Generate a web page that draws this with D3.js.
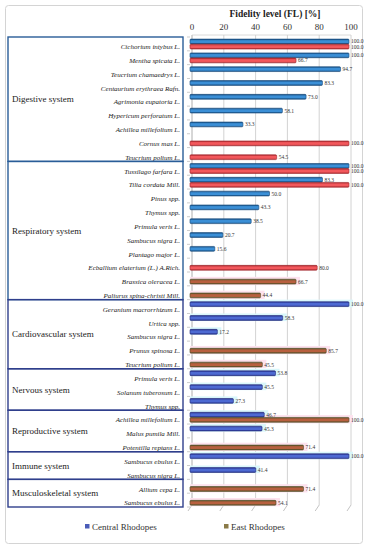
<!DOCTYPE html>
<html>
<head>
<meta charset="utf-8">
<script src="https://cdn.jsdelivr.net/npm/d3@7"></script>
<style>
  body { margin: 0; background: #fff; }
  svg { display: block; font-family: "Liberation Serif", "DejaVu Serif", serif; }
</style>
</head>
<body>
<svg id="chart" width="371" height="550"></svg>
<script>
// species, one row each (names repeat across systems)
const species = [
  "Cichorium intybus L.", "Mentha spicata L.", "Teucrium chamaedrys L.", "Centaurium erythraea Rafn.",
  "Agrimonia eupatoria L.", "Hypericum perforatum L.", "Achillea millefolium L.", "Cornus mas L.",
  "Teucrium polium L.",
  "Tussilago farfara L.", "Tilia cordata Mill.", "Pinus spp.", "Thymus spp.", "Primula veris L.",
  "Sambucus nigra L.", "Plantago major L.", "Ecballium elaterium (L.) A.Rich.", "Brassica oleracea L.",
  "Paliurus spina-christi Mill.",
  "Geranium macrorrhizum L.", "Urtica spp.", "Sambucus nigra L.", "Prunus spinosa L.", "Teucrium polium L.",
  "Primula veris L.", "Solanum tuberosum L.", "Thymus spp.",
  "Achillea millefolium L.", "Malus pumila Mill.", "Potentilla reptans L.",
  "Sambucus ebulus L.", "Sambucus nigra L.",
  "Allium cepa L.", "Sambucus ebulus L."
];
const groupNames = ["Digestive system", "Respiratory system", "Cardiovascular system", "Nervous system",
  "Reproductive system", "Immune system", "Musculoskeletal system"];
const groupSizes = [9, 10, 5, 3, 3, 2, 2];

// fidelity level [%], null = no bar
const central = [100, 100, 94.7, 83.3, 73.0, 58.1, 33.3, null, null,
  100, 83.3, 50.0, 43.3, 38.5, 20.7, 15.6, null, null, null,
  100, 58.3, 17.2, null, null,
  53.8, 45.5, 27.3,
  46.7, 45.3, null,
  100, 41.4,
  null, null];
const east = [100, 66.7, null, null, null, null, null, 100, 54.5,
  100, 100, null, null, null, null, null, 80.0, 66.7, 44.4,
  null, null, null, 85.7, 45.5,
  null, null, null,
  100, null, 71.4,
  null, null,
  71.4, 54.1];

const ticks = [0, 20, 40, 60, 80, 100];
const legendLabels = ["Central Rhodopes", "East Rhodopes"];

const svg = d3.select("#chart");
const x = d3.scaleLinear().domain([0, 100]).range([190, 349]);
const y = d3.scaleBand().domain(d3.range(species.length)).range([37, 507]);
const h = y.bandwidth();
const SHIFT_ROW = 17;   // from here on the bars take the darker shades

// outer frame
svg.append("rect")
  .attr("x", 5.5).attr("y", 5.5).attr("width", 357).attr("height", 538)
  .attr("rx", 3).attr("fill", "#fff").attr("stroke", "#d4d4d4");

// gradients for cylinder-like bars
const defs = svg.append("defs");
const shades = {
  blueA: ["#154a7c", "#3b8fd6"], blueB: ["#27308a", "#4d6ad2"],
  redA: ["#a3262c", "#f2585c"], redB: ["#56522a", "#b8603f"]
};
Object.entries(shades).forEach(([id, c]) => {
  const g = defs.append("linearGradient").attr("id", id).attr("x1", 0).attr("y1", 0).attr("x2", 0).attr("y2", 1);
  g.append("stop").attr("offset", "0%").attr("stop-color", c[0]);
  g.append("stop").attr("offset", "35%").attr("stop-color", c[1]);
  g.append("stop").attr("offset", "70%").attr("stop-color", c[1]);
  g.append("stop").attr("offset", "100%").attr("stop-color", c[0]);
});

// title and top ticks
svg.append("text")
  .attr("x", 275).attr("y", 17).attr("text-anchor", "middle")
  .attr("font-size", 9.5).attr("font-weight", "bold").attr("fill", "#222")
  .text("Fidelity level (FL) [%]");

svg.append("g").selectAll("text").data(ticks).join("text")
  .attr("x", d => x(d) + 2).attr("y", 30).attr("text-anchor", "middle")
  .attr("font-size", 9).attr("fill", "#333")
  .text(d => d);

// gridlines with slanted feet
const grid = svg.append("g");
grid.selectAll("line.v").data(ticks).join("line")
  .attr("class", "v")
  .attr("x1", d => x(d) + 2).attr("x2", d => x(d) + 2)
  .attr("y1", 35).attr("y2", 505)
  .attr("stroke", d => d === 0 ? "#9a9a9a" : "#c6c6c6").attr("stroke-width", 0.8);
grid.selectAll("line.f").data(ticks).join("line")
  .attr("class", "f")
  .attr("x1", d => x(d) + 2).attr("x2", d => x(d) - 2)
  .attr("y1", 505).attr("y2", 511)
  .attr("stroke", "#b4b4b4").attr("stroke-width", 0.8);
grid.append("line")
  .attr("x1", x(0) + 2).attr("x2", x(100) + 2).attr("y1", 35).attr("y2", 35)
  .attr("stroke", "#d0d0d0").attr("stroke-width", 0.8);
grid.selectAll("line.t").data(d3.range(species.length + 1)).join("line")
  .attr("class", "t")
  .attr("x1", 187).attr("x2", 190)
  .attr("y1", d => 37 + d * h).attr("y2", d => 37 + d * h)
  .attr("stroke", "#aaa").attr("stroke-width", 0.6);

// highlight bands behind the lower bars
const bands = svg.append("g");
species.forEach((s, i) => {
  if (i < SHIFT_ROW) return;
  if (central[i] != null) {
    bands.append("rect").attr("x", x(0)).attr("y", y(i))
      .attr("width", x(central[i]) - x(0) + 4).attr("height", h * 0.55)
      .attr("fill", "#d9f7fb");
  }
  if (east[i] != null) {
    bands.append("rect").attr("x", x(0)).attr("y", y(i) + h * 0.35)
      .attr("width", x(east[i]) - x(0) + 4).attr("height", h * 0.6)
      .attr("fill", "#fde2ee");
  }
});

// bars
const bars = svg.append("g");
const barH = h * 0.35;
const rows = d3.range(species.length);

bars.selectAll("rect.c").data(rows.filter(i => central[i] != null)).join("rect")
  .attr("class", "c")
  .attr("x", x(0)).attr("y", i => y(i) + h * 0.15)
  .attr("width", i => x(central[i]) - x(0)).attr("height", barH)
  .attr("rx", 1)
  .attr("fill", i => i < SHIFT_ROW ? "url(#blueA)" : "url(#blueB)")
  .attr("stroke", i => i < SHIFT_ROW ? "#154a7c" : "#22287a").attr("stroke-width", 0.6);

bars.selectAll("rect.e").data(rows.filter(i => east[i] != null)).join("rect")
  .attr("class", "e")
  .attr("x", x(0)).attr("y", i => y(i) + h * 0.52)
  .attr("width", i => x(east[i]) - x(0)).attr("height", barH)
  .attr("rx", 1)
  .attr("fill", i => i < SHIFT_ROW ? "url(#redA)" : "url(#redB)")
  .attr("stroke", i => i < SHIFT_ROW ? "#a3262c" : "#4f4e24").attr("stroke-width", 0.6);

// value labels
const vals = svg.append("g").attr("font-size", 5.5).attr("fill", "#333");
vals.selectAll("text.c").data(rows.filter(i => central[i] != null)).join("text")
  .attr("class", "c")
  .attr("x", i => x(central[i]) + 2).attr("y", i => y(i) + h * 0.15 + barH / 2 + 2)
  .text(i => central[i].toFixed(1));
vals.selectAll("text.e").data(rows.filter(i => east[i] != null)).join("text")
  .attr("class", "e")
  .attr("x", i => x(east[i]) + 2).attr("y", i => y(i) + h * 0.52 + barH / 2 + 2)
  .text(i => east[i].toFixed(1));

// species labels
svg.append("g").selectAll("text").data(rows).join("text")
  .attr("x", 180).attr("y", i => y(i) + h * 0.88)
  .attr("text-anchor", "end").attr("font-size", 7).attr("font-style", "italic").attr("fill", "#222")
  .text(i => species[i]);

// system boxes
const starts = groupSizes.map((n, k) => d3.sum(groupSizes.slice(0, k)));
const boxes = svg.append("g");
groupNames.forEach((g, k) => {
  const top = y(starts[k]);
  const bottom = y(starts[k] + groupSizes[k] - 1) + h;
  boxes.append("rect")
    .attr("x", 8).attr("y", top).attr("width", 175).attr("height", bottom - top)
    .attr("fill", "none").attr("stroke", k < 2 ? "#2a5d98" : "#2f3f8c").attr("stroke-width", 1.4);
  boxes.append("text")
    .attr("x", 12).attr("y", (top + bottom) / 2 + 3)
    .attr("font-size", 9).attr("fill", "#222")
    .text(g);
});

// legend
const legendColors = ["#4a5cb8", "#8a7a48"];
const legendX = [85, 224];
const legend = svg.append("g");
legendLabels.forEach((l, k) => {
  legend.append("rect").attr("x", legendX[k]).attr("y", 524).attr("width", 4.5).attr("height", 4.5)
    .attr("fill", legendColors[k]);
  legend.append("text").attr("x", legendX[k] + 7).attr("y", 529.5)
    .attr("font-size", 9).attr("fill", "#333").text(l);
});
</script>
</body>
</html>
